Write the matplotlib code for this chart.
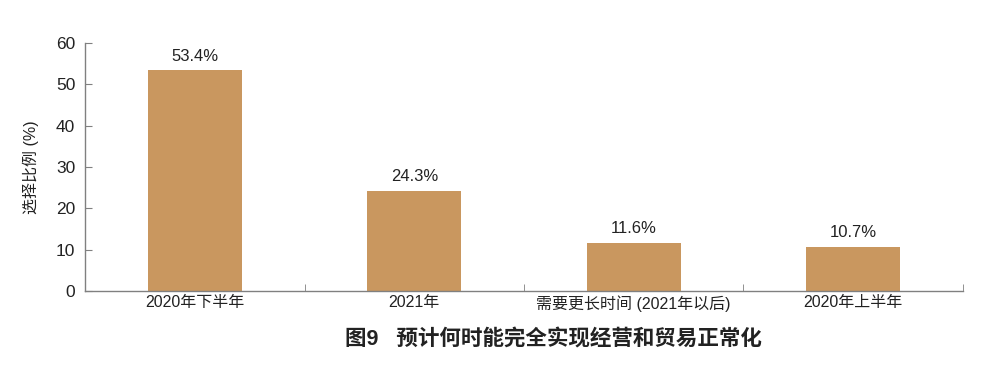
import matplotlib.pyplot as plt
from matplotlib.ticker import FixedLocator

plt.rcParams['font.family'] = ['Liberation Sans', 'Noto Sans CJK SC', 'DejaVu Sans']

# 数据
categories = ['2020年下半年', '2021年', '需要更长时间 (2021年以后)', '2020年上半年']
values = [53.4, 24.3, 11.6, 10.7]
yticks = [0, 10, 20, 30, 40, 50, 60]

bar_color = '#C9975F'
axis_color = '#808080'

fig = plt.figure(figsize=(9.82, 3.78), dpi=100)
ax = fig.add_axes([0.0866, 0.2302, 0.894, 0.656])

x = list(range(len(categories)))
bars = ax.bar(x, values, width=0.43, color=bar_color)

for xi, v in zip(x, values):
    ax.text(xi, v + 1.6, f'{v}%', ha='center', va='bottom', fontsize=12, color='#222222')

ax.set_xlim(-0.5, len(categories) - 0.5)
ax.set_ylim(0, 60)
ax.set_yticks(yticks)
ax.set_xticks(x)
ax.set_xticklabels(categories, fontsize=11.5, color='#222222')
ax.xaxis.set_minor_locator(FixedLocator([i - 0.5 for i in range(len(categories) + 1)]))
ax.tick_params(axis='x', which='major', length=0, pad=3)
ax.tick_params(axis='x', which='minor', direction='in', length=5, color=axis_color)
ax.tick_params(axis='y', direction='in', length=5, color=axis_color, labelsize=12.5,
               labelcolor='#222222', pad=7)

for side in ['top', 'right']:
    ax.spines[side].set_visible(False)
for side in ['left', 'bottom']:
    ax.spines[side].set_color(axis_color)
    ax.spines[side].set_linewidth(1.0)

ax.set_ylabel('选择比例 (%)', fontsize=11.5, color='#222222', labelpad=12)

fig.text(0.564, 0.1, '图9   预计何时能完全实现经营和贸易正常化', ha='center', va='center',
         fontsize=15.5, fontweight='bold', color='#222222')

fig.savefig('out.png', dpi=100)
